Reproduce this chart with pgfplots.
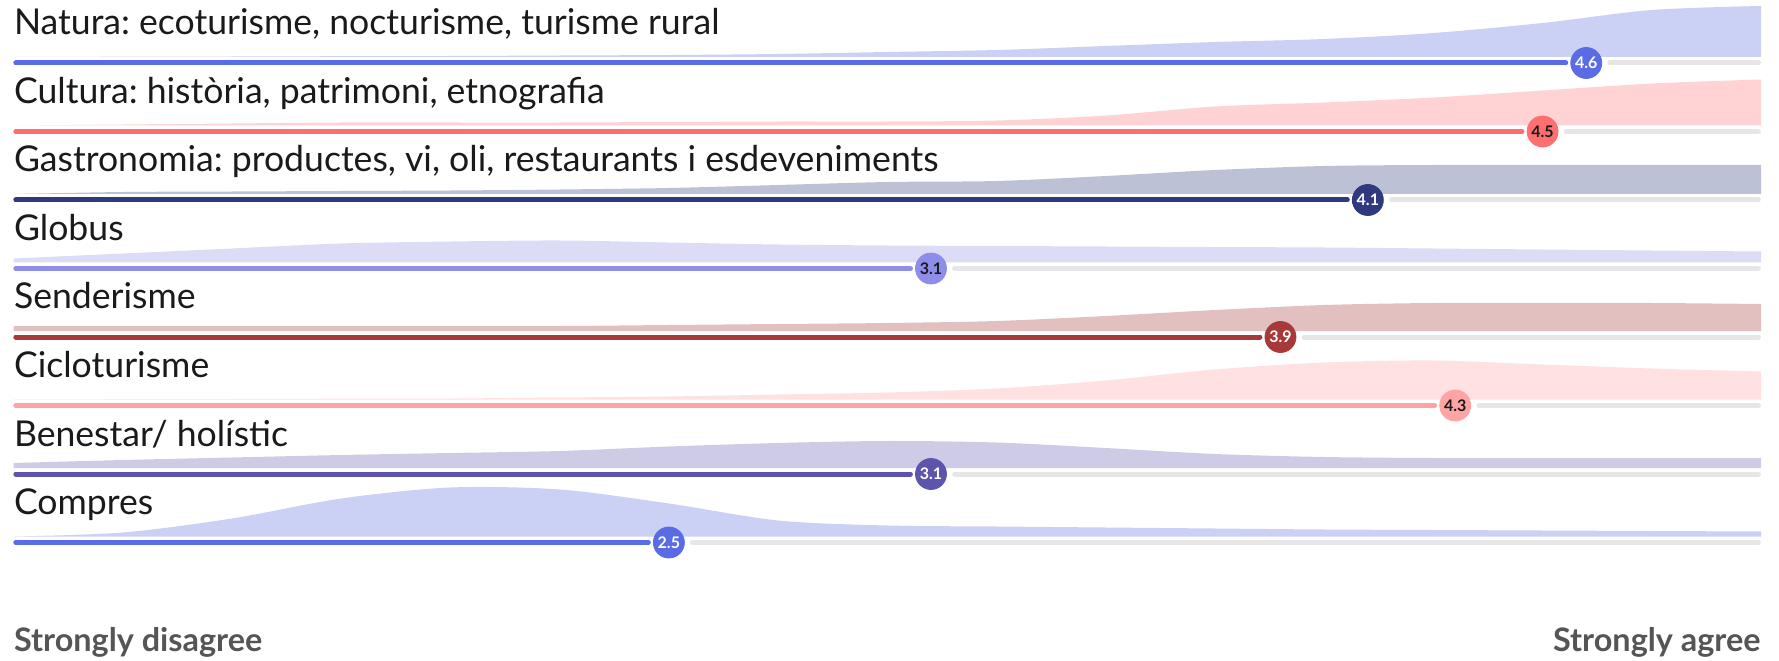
\documentclass[border=0pt]{standalone}
\usepackage{fontspec}
\setmainfont{Lato}
\usepackage{pgfplots}
\usepackage{pgfplotstable}
\pgfplotsset{compat=1.18}
\usepgfplotslibrary{fillbetween}
\frenchspacing

\definecolor{lnA}{HTML}{5A6BE6}\definecolor{arA}{HTML}{CBD0F5}
\definecolor{lnB}{HTML}{FF6F6F}\definecolor{arB}{HTML}{FFD3D3}
\definecolor{lnC}{HTML}{2F3A7E}\definecolor{arC}{HTML}{BCC1D6}
\definecolor{lnD}{HTML}{8E8EEA}\definecolor{arD}{HTML}{DCDCF7}
\definecolor{lnE}{HTML}{A8393A}\definecolor{arE}{HTML}{E3C0C0}
\definecolor{lnF}{HTML}{FFA4A4}\definecolor{arF}{HTML}{FFE1E1}
\definecolor{lnG}{HTML}{5D55AB}\definecolor{arG}{HTML}{CECBE6}
\definecolor{lnH}{HTML}{5A6BE6}\definecolor{arH}{HTML}{CBD0F5}
\definecolor{track}{HTML}{E6E6E6}
\definecolor{lbl}{HTML}{1A1A1A}
\definecolor{foot}{HTML}{555555}

% density profiles (height in px above each row's base)
\pgfplotstableread{
x    hA   hB   hC   hD   hE   hF   hG   hH
1    0    0    0    4    5    0    5    0
1.25 0.3  1    2    9    5    0.3  8    4
1.5  0.5  2    2.5  14   5    0.5  10.5 18
1.75 0.8  3    3    19   5    0.8  13   38
2    1    3    3.5  21   5    1    15   49
2.25 1.5  3    4.5  22   5    2    17   47
2.5  2    3.5  6    20   6    3    21.5 33
2.75 3    4    9    18   7    5    25   16
3    5    4    12   17   8    7    27   11
3.25 7    5    13   16.5 10   11   25.5 10
3.5  11   10   18   16   15   19   20   9
3.75 15   19   24   15.5 21   30   14   8
4    18   23   28   15   26   37   11   7
4.25 24   28   29   14   28   39   10   6.5
4.5  34   35   29   13   28   35   10   6
4.75 47   42   29   12   28   31   10   5.5
5    51   46   29   11   27   28   10   5
}\dens

\begin{document}
\begin{tikzpicture}
\begin{axis}[
  scale only axis, width=889.5pt, height=330pt,
  xmin=0.96887, xmax=5.0412, ymin=0, ymax=660, y dir=reverse,
  hide axis, clip=false,
  every node near coord/.append style={anchor=center, font=\fontsize{8}{8}\selectfont\bfseries},
]
\path (rel axis cs:0,0) rectangle (rel axis cs:1,1);

% ---------- areas ----------
\addplot[name path=tA, draw=none, smooth, tension=0.5] table[x=x, y expr=57-\thisrow{hA}] {\dens};
\addplot[name path=bA, draw=none] coordinates {(1,57) (5,57)};
\addplot[fill=arA, draw=none] fill between[of=tA and bA];

\addplot[name path=tB, draw=none, smooth, tension=0.5] table[x=x, y expr=125.5-\thisrow{hB}] {\dens};
\addplot[name path=bB, draw=none] coordinates {(1,125.5) (5,125.5)};
\addplot[fill=arB, draw=none] fill between[of=tB and bB];

\addplot[name path=tC, draw=none, smooth, tension=0.5] table[x=x, y expr=194-\thisrow{hC}] {\dens};
\addplot[name path=bC, draw=none] coordinates {(1,194) (5,194)};
\addplot[fill=arC, draw=none] fill between[of=tC and bC];

\addplot[name path=tD, draw=none, smooth, tension=0.5] table[x=x, y expr=262.5-\thisrow{hD}] {\dens};
\addplot[name path=bD, draw=none] coordinates {(1,262.5) (5,262.5)};
\addplot[fill=arD, draw=none] fill between[of=tD and bD];

\addplot[name path=tE, draw=none, smooth, tension=0.5] table[x=x, y expr=331-\thisrow{hE}] {\dens};
\addplot[name path=bE, draw=none] coordinates {(1,331) (5,331)};
\addplot[fill=arE, draw=none] fill between[of=tE and bE];

\addplot[name path=tF, draw=none, smooth, tension=0.5] table[x=x, y expr=399.5-\thisrow{hF}] {\dens};
\addplot[name path=bF, draw=none] coordinates {(1,399.5) (5,399.5)};
\addplot[fill=arF, draw=none] fill between[of=tF and bF];

\addplot[name path=tG, draw=none, smooth, tension=0.5] table[x=x, y expr=468-\thisrow{hG}] {\dens};
\addplot[name path=bG, draw=none] coordinates {(1,468) (5,468)};
\addplot[fill=arG, draw=none] fill between[of=tG and bG];

\addplot[name path=tH, draw=none, smooth, tension=0.5] table[x=x, y expr=536.5-\thisrow{hH}] {\dens};
\addplot[name path=bH, draw=none] coordinates {(1,536.5) (5,536.5)};
\addplot[fill=arH, draw=none] fill between[of=tH and bH];

% ---------- tracks ----------
\addplot[track, line width=2.5pt, line cap=round] coordinates {(4.654,63) (4.994,63)};
\addplot[track, line width=2.5pt, line cap=round] coordinates {(4.554,131.5) (4.994,131.5)};
\addplot[track, line width=2.5pt, line cap=round] coordinates {(4.154,200) (4.994,200)};
\addplot[track, line width=2.5pt, line cap=round] coordinates {(3.154,268.5) (4.994,268.5)};
\addplot[track, line width=2.5pt, line cap=round] coordinates {(3.954,337) (4.994,337)};
\addplot[track, line width=2.5pt, line cap=round] coordinates {(4.354,405.5) (4.994,405.5)};
\addplot[track, line width=2.5pt, line cap=round] coordinates {(3.154,474) (4.994,474)};
\addplot[track, line width=2.5pt, line cap=round] coordinates {(2.554,542.5) (4.994,542.5)};

% ---------- value lines ----------
\addplot[lnA, line width=2.5pt, line cap=round] coordinates {(1.005,63) (4.553,63)};
\addplot[lnB, line width=2.5pt, line cap=round] coordinates {(1.005,131.5) (4.453,131.5)};
\addplot[lnC, line width=2.5pt, line cap=round] coordinates {(1.005,200) (4.053,200)};
\addplot[lnD, line width=2.5pt, line cap=round] coordinates {(1.005,268.5) (3.053,268.5)};
\addplot[lnE, line width=2.5pt, line cap=round] coordinates {(1.005,337) (3.853,337)};
\addplot[lnF, line width=2.5pt, line cap=round] coordinates {(1.005,405.5) (4.253,405.5)};
\addplot[lnG, line width=2.5pt, line cap=round] coordinates {(1.005,474) (3.053,474)};
\addplot[lnH, line width=2.5pt, line cap=round] coordinates {(1.005,542.5) (2.453,542.5)};

% ---------- markers ----------
\addplot[only marks, mark=*, mark size=7.75pt, color=lnA, nodes near coords, point meta=explicit symbolic,
  every node near coord/.append style={text=white}] coordinates {(4.6,63) [4.6]};
\addplot[only marks, mark=*, mark size=7.75pt, color=lnB, nodes near coords, point meta=explicit symbolic,
  every node near coord/.append style={text=lbl}] coordinates {(4.5,131.5) [4.5]};
\addplot[only marks, mark=*, mark size=7.75pt, color=lnC, nodes near coords, point meta=explicit symbolic,
  every node near coord/.append style={text=white}] coordinates {(4.1,200) [4.1]};
\addplot[only marks, mark=*, mark size=7.75pt, color=lnD, nodes near coords, point meta=explicit symbolic,
  every node near coord/.append style={text=lbl}] coordinates {(3.1,268.5) [3.1]};
\addplot[only marks, mark=*, mark size=7.75pt, color=lnE, nodes near coords, point meta=explicit symbolic,
  every node near coord/.append style={text=white}] coordinates {(3.9,337) [3.9]};
\addplot[only marks, mark=*, mark size=7.75pt, color=lnF, nodes near coords, point meta=explicit symbolic,
  every node near coord/.append style={text=lbl}] coordinates {(4.3,405.5) [4.3]};
\addplot[only marks, mark=*, mark size=7.75pt, color=lnG, nodes near coords, point meta=explicit symbolic,
  every node near coord/.append style={text=white}] coordinates {(3.1,474) [3.1]};
\addplot[only marks, mark=*, mark size=7.75pt, color=lnH, nodes near coords, point meta=explicit symbolic,
  every node near coord/.append style={text=white}] coordinates {(2.5,542.5) [2.5]};

% ---------- labels ----------
\begin{scope}[every node/.style={anchor=base west, inner sep=0pt, text=lbl, font=\fontsize{17.8}{17.8}\selectfont}]
\node at (axis cs:1,35) {Natura: ecoturisme, nocturisme, turisme rural};
\node at (axis cs:1,103.5) {Cultura: història, patrimoni, etnografia};
\node at (axis cs:1,172) {Gastronomia: productes, vi, oli, restaurants i esdeveniments};
\node at (axis cs:1,240.5) {Globus};
\node at (axis cs:1,309) {Senderisme};
\node at (axis cs:1,377.5) {Cicloturisme};
\node at (axis cs:1,446) {Benestar/ holístic};
\node at (axis cs:1,514.5) {Compres};
\end{scope}
\node[anchor=base west, inner sep=0pt, text=foot, font=\fontsize{16.2}{16.2}\selectfont\bfseries] at (axis cs:1,651) {Strongly disagree};
\node[anchor=base east, inner sep=0pt, text=foot, font=\fontsize{16.2}{16.2}\selectfont\bfseries] at (axis cs:5,651) {Strongly agree};
\end{axis}
\end{tikzpicture}
\end{document}
